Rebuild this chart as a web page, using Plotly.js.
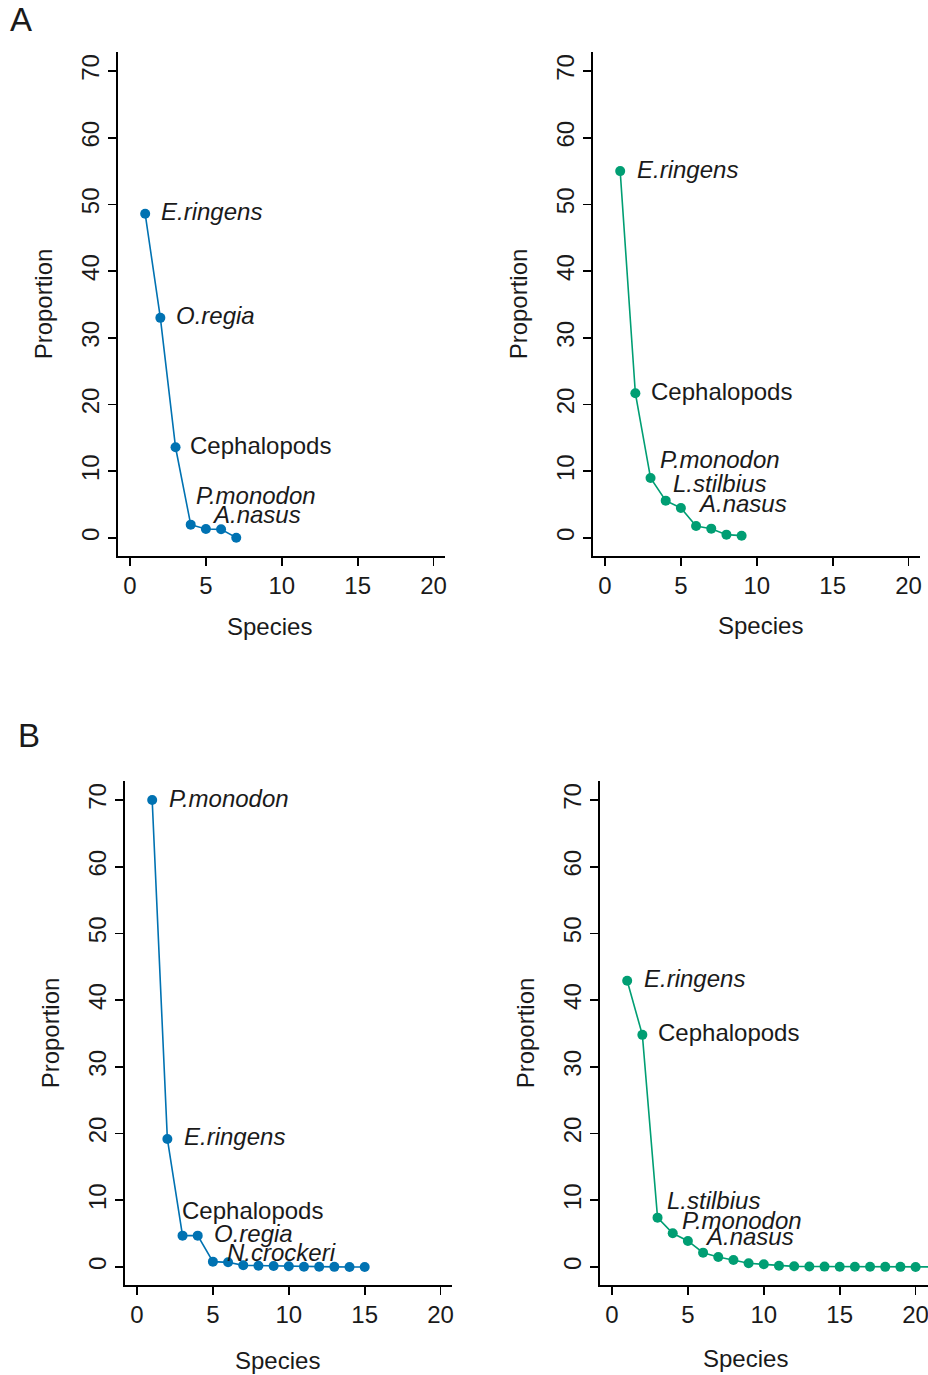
<!DOCTYPE html>
<html>
<head>
<meta charset="utf-8">
<script src="https://cdn.plot.ly/plotly-3.0.1.min.js"></script>
<style>html,body{margin:0;padding:0;background:#fff;}#chart{width:928px;height:1375px;}</style>
</head>
<body>
<div id="chart"></div>
<script>
// ---- data (species rank vs proportion, %) ----
const speciesA1 = [1, 2, 3, 4, 5, 6, 7];
const propA1 = [48.6, 33.0, 13.6, 2.0, 1.35, 1.3, 0.05];

const speciesA2 = [1, 2, 3, 4, 5, 6, 7, 8, 9];
const propA2 = [55.0, 21.7, 9.0, 5.6, 4.5, 1.8, 1.4, 0.5, 0.35];

const speciesB1 = [1, 2, 3, 4, 5, 6, 7, 8, 9, 10, 11, 12, 13, 14, 15];
const propB1 = [70.0, 19.2, 4.7, 4.7, 0.8, 0.7, 0.25, 0.2, 0.15, 0.1, 0.05, 0.05, 0.02, 0.01, 0.01];

const speciesB2 = [1, 2, 3, 4, 5, 6, 7, 8, 9, 10, 11, 12, 13, 14, 15, 16, 17, 18, 19, 20, 21];
const propB2 = [42.9, 34.8, 7.4, 5.05, 3.9, 2.15, 1.5, 1.05, 0.55, 0.4, 0.2, 0.1, 0.08, 0.06, 0.05, 0.04, 0.03, 0.02, 0.02, 0.01, 0.01];

// labels: text and label anchor (data units, repelled like ggrepel)
const labelsA1 = [["<i>E.ringens</i>", 1.98, 48.9], ["<i>O.regia</i>", 2.96, 33.3], ["Cephalopods", 3.89, 13.8], ["<i>P.monodon</i>", 4.28, 6.3], ["<i>A.nasus</i>", 5.34, 3.45]];
const labelsA2 = [["<i>E.ringens</i>", 2.04, 55.3], ["Cephalopods", 2.96, 22.0], ["<i>P.monodon</i>", 3.56, 11.7], ["<i>L.stilbius</i>", 4.41, 8.1], ["<i>A.nasus</i>", 6.06, 5.2]];
const labelsB1 = [["<i>P.monodon</i>", 2.04, 70.3], ["<i>E.ringens</i>", 3.03, 19.5], ["Cephalopods", 2.9, 8.5], ["<i>O.regia</i>", 5.0, 4.95], ["<i>N.crockeri</i>", 5.86, 2.1]];
const labelsB2 = [["<i>E.ringens</i>", 2.04, 43.2], ["Cephalopods", 2.96, 35.1], ["<i>L.stilbius</i>", 3.56, 9.9], ["<i>P.monodon</i>", 4.55, 6.9], ["<i>A.nasus</i>", 6.06, 4.5]];

const yTicks = [0, 10, 20, 30, 40, 50, 60, 70];
const xTicks = [0, 5, 10, 15, 20];

// ---- layout helpers ----
const W = 928, H = 1375;
const BLUE = '#0072B2', GREEN = '#009E73';
const FONT = 'Liberation Sans, Arial, Helvetica, sans-serif';
const TXT = '#1a1a1a';

const panels = [
  {xs: speciesA1, ys: propA1, color: BLUE, labels: labelsA1, px: [118, 445], py: [52, 556], x0: 130, y0: 538, tx: 269, ty: 626},
  {xs: speciesA2, ys: propA2, color: GREEN, labels: labelsA2, px: [593, 920], py: [52, 556], x0: 605, y0: 538, tx: 760, ty: 625},
  {xs: speciesB1, ys: propB1, color: BLUE, labels: labelsB1, px: [125, 452], py: [781, 1285], x0: 137, y0: 1267, tx: 277, ty: 1360},
  {xs: speciesB2, ys: propB2, color: GREEN, labels: labelsB2, px: [600, 928], py: [781, 1285], x0: 612, y0: 1267, tx: 745, ty: 1358}
];
const XS = 15.18, YS = 6.671; // px per unit

const data = [];
const layout = {
  width: W, height: H,
  margin: {l: 0, r: 0, t: 0, b: 0},
  paper_bgcolor: '#fff', plot_bgcolor: 'rgba(0,0,0,0)',
  showlegend: false,
  font: {family: FONT, size: 24, color: TXT},
  annotations: []
};

panels.forEach((p, i) => {
  const n = i + 1;
  const xa = 'x' + (n === 1 ? '' : n), ya = 'y' + (n === 1 ? '' : n);
  const xKey = 'xaxis' + (n === 1 ? '' : n), yKey = 'yaxis' + (n === 1 ? '' : n);
  data.push({
    type: 'scatter', mode: 'lines+markers',
    x: p.xs, y: p.ys, xaxis: xa, yaxis: ya,
    line: {color: p.color, width: 1.6},
    marker: {color: p.color, size: 10},
    cliponaxis: false, hoverinfo: 'skip'
  });
  const xr = [(p.px[0] - p.x0) / XS, (p.px[1] - p.x0) / XS];
  const yr = [(p.y0 - p.py[1]) / YS, (p.y0 - p.py[0]) / YS];
  layout[xKey] = {
    domain: [p.px[0] / W, p.px[1] / W], anchor: ya,
    range: xr, tickvals: xTicks, ticktext: xTicks.map(String),
    ticklabeloverflow: 'allow',
    showline: true, linecolor: '#000', linewidth: 1.6,
    ticks: 'outside', ticklen: 8, tickwidth: 1.6, tickcolor: '#000',
    showgrid: false, zeroline: false,
    tickfont: {family: FONT, size: 24, color: TXT}
  };
  layout[yKey] = {
    domain: [1 - p.py[1] / H, 1 - p.py[0] / H], anchor: xa,
    range: yr, tickvals: yTicks, ticktext: yTicks.map(String),
    tickangle: -90, ticklabeloverflow: 'allow',
    showline: true, linecolor: '#000', linewidth: 1.6,
    ticks: 'outside', ticklen: 8, tickwidth: 1.6, tickcolor: '#000',
    showgrid: false, zeroline: false,
    tickfont: {family: FONT, size: 24, color: TXT},
    title: {text: 'Proportion', font: {family: FONT, size: 24, color: TXT}, standoff: 17}
  };
  // x-axis title (placed like the reference, slightly left of the panel centre)
  layout.annotations.push({
    xref: 'paper', yref: 'paper', x: p.tx / W, y: 1 - p.ty / H, text: 'Species',
    showarrow: false, xanchor: 'center', yanchor: 'middle',
    font: {family: FONT, size: 24, color: TXT}
  });
  p.labels.forEach(l => {
    layout.annotations.push({
      xref: xa, yref: ya, x: l[1], y: l[2], text: l[0],
      showarrow: false, xanchor: 'left', yanchor: 'middle',
      font: {family: FONT, size: 24, color: TXT}, borderpad: 0
    });
  });
});

layout.annotations.push({xref: 'paper', yref: 'paper', x: 8 / W, y: 1 - 20 / H, text: 'A', showarrow: false, xanchor: 'left', yanchor: 'middle', font: {family: FONT, size: 33, color: TXT}});
layout.annotations.push({xref: 'paper', yref: 'paper', x: 16 / W, y: 1 - 735 / H, text: 'B', showarrow: false, xanchor: 'left', yanchor: 'middle', font: {family: FONT, size: 33, color: TXT}});

Plotly.newPlot('chart', data, layout, {staticPlot: true, displayModeBar: false});
</script>
</body>
</html>
